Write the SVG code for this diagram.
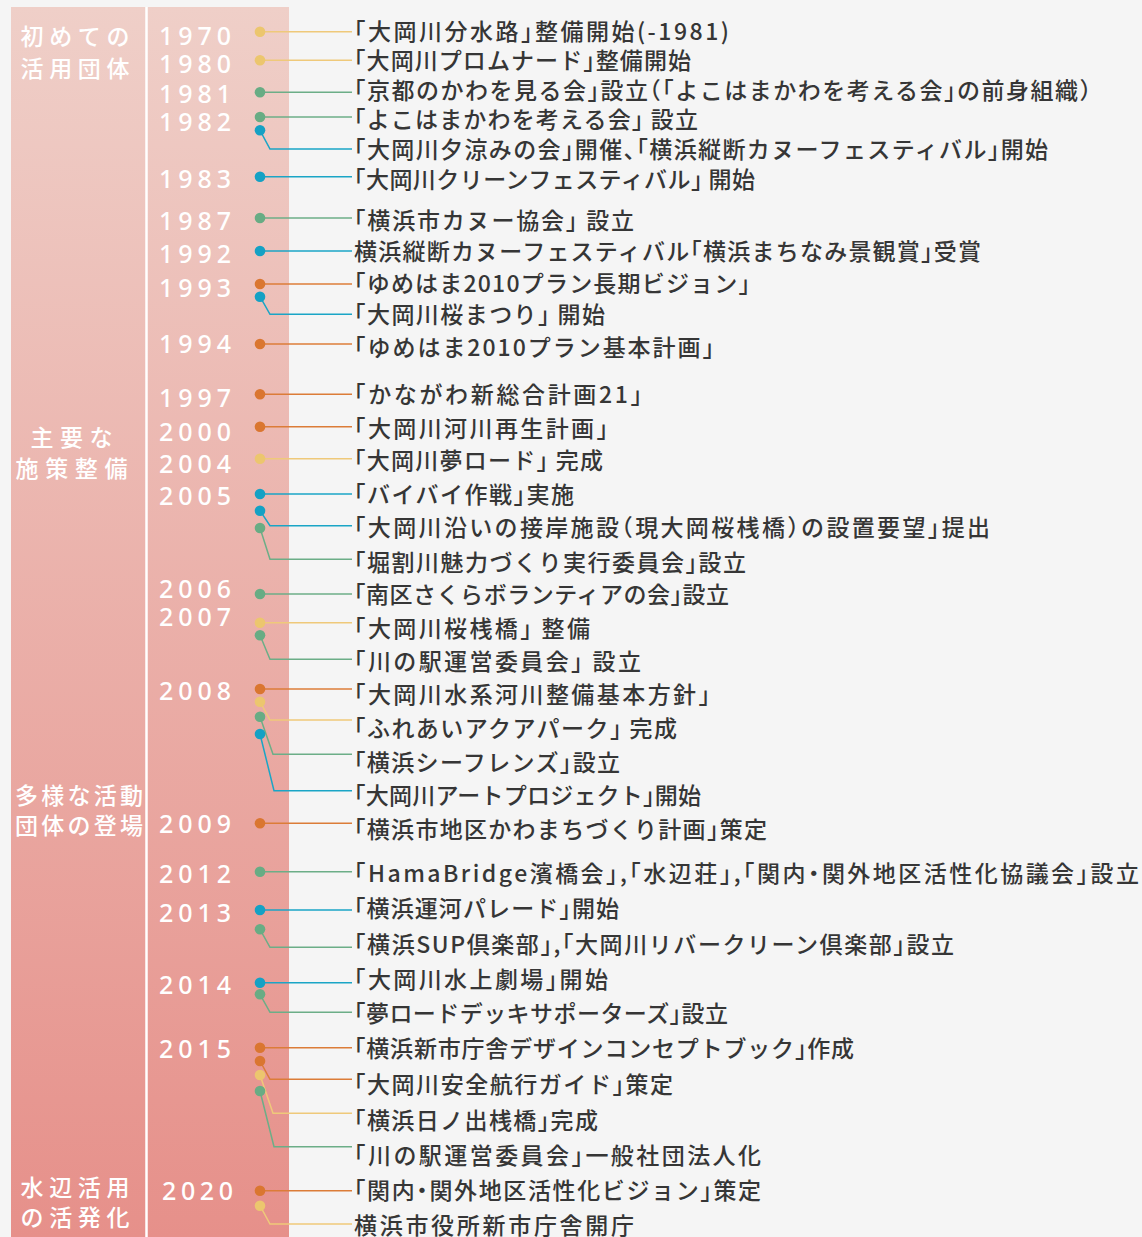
<svg xmlns="http://www.w3.org/2000/svg" width="1142" height="1237" viewBox="0 0 1142 1237">
<defs>
<linearGradient id="pg" x1="0" y1="0" x2="0" y2="1">
<stop offset="0" stop-color="#efcfc8"/>
<stop offset="1" stop-color="#e6908a"/>
</linearGradient>
<style>
.cat{fill:#fff;font-family:"Noto Sans CJK JP","Noto Sans",sans-serif;font-size:23px;font-weight:500}
.yr{fill:#fff;font-family:"Noto Sans","Noto Sans CJK JP",sans-serif;font-size:25px;font-weight:500}
.lb{fill:#363636;font-family:"Noto Sans CJK JP",sans-serif;font-size:23px;font-weight:500;font-feature-settings:"halt"}
.dy{fill:#ecc66e}.dg{fill:#68ac84}.db{fill:#15a1c4}.do{fill:#da7630}
.cn path{fill:none;stroke-width:1.5}
.ly{stroke:#efc97a}.lg{stroke:#6cae87}.lb2{stroke:#1aa5c6}.lo{stroke:#dc7c38}
</style>
</defs>
<rect width="1142" height="1237" fill="#f5f5f5"/>
<g id="panel">
<rect x="11" y="7" width="278" height="1230" fill="url(#pg)"/>
<line x1="146.5" y1="7" x2="146.5" y2="1237" stroke="#fff" stroke-width="2.5"/>
</g>
<g id="categories">
<g id="cat1"><text class="cat" x="20.5" y="45" textLength="109" lengthAdjust="spacing">初めての</text><text class="cat" x="20.5" y="76.5" textLength="109" lengthAdjust="spacing">活用団体</text></g>
<g id="cat2"><text class="cat" x="30.5" y="445.5" textLength="82" lengthAdjust="spacing">主要な</text><text class="cat" x="15.5" y="477" textLength="112" lengthAdjust="spacing">施策整備</text></g>
<g id="cat3"><text class="cat" x="15" y="804" textLength="128" lengthAdjust="spacing">多様な活動</text><text class="cat" x="15" y="834" textLength="128" lengthAdjust="spacing">団体の登場</text></g>
<g id="cat4"><text class="cat" x="20.5" y="1196" textLength="109" lengthAdjust="spacing">水辺活用</text><text class="cat" x="20.5" y="1226" textLength="109" lengthAdjust="spacing">の活発化</text></g>
</g>
<g id="years">
<g id="y1970"><text class="yr" x="159" y="45" textLength="72" lengthAdjust="spacing">1970</text></g>
<g id="y1980"><text class="yr" x="159" y="73" textLength="72" lengthAdjust="spacing">1980</text></g>
<g id="y1981"><text class="yr" x="159" y="103" textLength="72" lengthAdjust="spacing">1981</text></g>
<g id="y1982"><text class="yr" x="159" y="131" textLength="72" lengthAdjust="spacing">1982</text></g>
<g id="y1983"><text class="yr" x="159" y="188" textLength="72" lengthAdjust="spacing">1983</text></g>
<g id="y1987"><text class="yr" x="159" y="230" textLength="72" lengthAdjust="spacing">1987</text></g>
<g id="y1992"><text class="yr" x="159" y="263" textLength="72" lengthAdjust="spacing">1992</text></g>
<g id="y1993"><text class="yr" x="159" y="297" textLength="72" lengthAdjust="spacing">1993</text></g>
<g id="y1994"><text class="yr" x="159" y="353" textLength="72" lengthAdjust="spacing">1994</text></g>
<g id="y1997"><text class="yr" x="159" y="407" textLength="72" lengthAdjust="spacing">1997</text></g>
<g id="y2000"><text class="yr" x="159" y="441" textLength="72" lengthAdjust="spacing">2000</text></g>
<g id="y2004"><text class="yr" x="159" y="473" textLength="72" lengthAdjust="spacing">2004</text></g>
<g id="y2005"><text class="yr" x="159" y="505" textLength="72" lengthAdjust="spacing">2005</text></g>
<g id="y2006"><text class="yr" x="159" y="598" textLength="72" lengthAdjust="spacing">2006</text></g>
<g id="y2007"><text class="yr" x="159" y="626" textLength="72" lengthAdjust="spacing">2007</text></g>
<g id="y2008"><text class="yr" x="159" y="700" textLength="72" lengthAdjust="spacing">2008</text></g>
<g id="y2009"><text class="yr" x="159" y="833" textLength="72" lengthAdjust="spacing">2009</text></g>
<g id="y2012"><text class="yr" x="159" y="883" textLength="72" lengthAdjust="spacing">2012</text></g>
<g id="y2013"><text class="yr" x="159" y="922" textLength="72" lengthAdjust="spacing">2013</text></g>
<g id="y2014"><text class="yr" x="159" y="994" textLength="72" lengthAdjust="spacing">2014</text></g>
<g id="y2015"><text class="yr" x="159" y="1058" textLength="72" lengthAdjust="spacing">2015</text></g>
<g id="y2020"><text class="yr" x="162" y="1200" textLength="71" lengthAdjust="spacing">2020</text></g>
</g>
<g id="connectors" class="cn">
<path class="ly" d="M260,31.7H352"/>
<path class="ly" d="M260,60.3H352"/>
<path class="lg" d="M260,92.3H352"/>
<path class="lg" d="M260,117H352"/>
<path class="lb2" d="M260,130.3L270,149H352"/>
<path class="lb2" d="M260,176.7H352"/>
<path class="lg" d="M260,218H352"/>
<path class="lb2" d="M260,251H352"/>
<path class="lo" d="M260,284H352"/>
<path class="lb2" d="M260,296.7L270,314.3H352"/>
<path class="lo" d="M260,344H352"/>
<path class="lo" d="M260,394.3H352"/>
<path class="lo" d="M260,426.7H352"/>
<path class="ly" d="M260,458.7H352"/>
<path class="lb2" d="M260,494H352"/>
<path class="lb2" d="M260,510.7L270,525.7H352"/>
<path class="lg" d="M260,528L270,559.3H352"/>
<path class="lg" d="M260,594H352"/>
<path class="ly" d="M260,622.7H352"/>
<path class="lg" d="M260,635.3L270,659.3H352"/>
<path class="lo" d="M260,689H352"/>
<path class="ly" d="M260,701.7L270,720H352"/>
<path class="lg" d="M260,716.7L273,754.3H352"/>
<path class="lb2" d="M260,734L274,790.7H352"/>
<path class="lo" d="M260,823.3H352"/>
<path class="lg" d="M260,871.7H352"/>
<path class="lb2" d="M260,910H352"/>
<path class="lg" d="M260,929.3L270,947.3H352"/>
<path class="lb2" d="M260,982.7H352"/>
<path class="lg" d="M260,994.3L270,1012.3H352"/>
<path class="lo" d="M260,1047.7H352"/>
<path class="lo" d="M260,1061L270,1079.3H352"/>
<path class="ly" d="M260,1075L273,1113.3H352"/>
<path class="lg" d="M260,1091L274,1146.7H352"/>
<path class="lo" d="M260,1190.7H352"/>
<path class="ly" d="M260,1205.7L270,1224H352"/>
</g>
<g id="e01"><circle class="dy" cx="260" cy="31.7" r="5.3"/><text class="lb" x="354" y="39.5" textLength="375" lengthAdjust="spacing">「大岡川分水路」整備開始(-1981)</text></g>
<g id="e02"><circle class="dy" cx="260" cy="60.3" r="5.3"/><text class="lb" x="354" y="68.5" textLength="337" lengthAdjust="spacing">「大岡川プロムナード」整備開始</text></g>
<g id="e03"><circle class="dg" cx="260" cy="92.3" r="5.3"/><text class="lb" x="354" y="98.5" textLength="737" lengthAdjust="spacing">「京都のかわを見る会」設立（「よこはまかわを考える会」の前身組織）</text></g>
<g id="e04"><circle class="dg" cx="260" cy="117" r="5.3"/><text class="lb" x="354" y="127.5" textLength="344" lengthAdjust="spacing">「よこはまかわを考える会」 設立</text></g>
<g id="e05"><circle class="db" cx="260" cy="130.3" r="5.3"/><text class="lb" x="354" y="157.5" textLength="694" lengthAdjust="spacing">「大岡川夕涼みの会」開催、「横浜縦断カヌーフェスティバル」開始</text></g>
<g id="e06"><circle class="db" cx="260" cy="176.7" r="5.3"/><text class="lb" x="354" y="187.5" textLength="401" lengthAdjust="spacing">「大岡川クリーンフェスティバル」 開始</text></g>
<g id="e07"><circle class="dg" cx="260" cy="218" r="5.3"/><text class="lb" x="354" y="228.5" textLength="280" lengthAdjust="spacing">「横浜市カヌー協会」 設立</text></g>
<g id="e08"><circle class="db" cx="260" cy="251" r="5.3"/><text class="lb" x="354" y="259.5" textLength="627" lengthAdjust="spacing">横浜縦断カヌーフェスティバル「横浜まちなみ景観賞」受賞</text></g>
<g id="e09"><circle class="do" cx="260" cy="284" r="5.3"/><text class="lb" x="354" y="291.5" textLength="396" lengthAdjust="spacing">「ゆめはま2010プラン長期ビジョン」</text></g>
<g id="e10"><circle class="db" cx="260" cy="296.7" r="5.3"/><text class="lb" x="354" y="322.5" textLength="251" lengthAdjust="spacing">「大岡川桜まつり」 開始</text></g>
<g id="e11"><circle class="do" cx="260" cy="344" r="5.3"/><text class="lb" x="354" y="355.5" textLength="360" lengthAdjust="spacing">「ゆめはま2010プラン基本計画」</text></g>
<g id="e12"><circle class="do" cx="260" cy="394.3" r="5.3"/><text class="lb" x="354" y="402.5" textLength="288" lengthAdjust="spacing">「かながわ新総合計画21」</text></g>
<g id="e13"><circle class="do" cx="260" cy="426.7" r="5.3"/><text class="lb" x="354" y="436.5" textLength="254" lengthAdjust="spacing">「大岡川河川再生計画」</text></g>
<g id="e14"><circle class="dy" cx="260" cy="458.7" r="5.3"/><text class="lb" x="354" y="468.5" textLength="249" lengthAdjust="spacing">「大岡川夢ロード」 完成</text></g>
<g id="e15"><circle class="db" cx="260" cy="494" r="5.3"/><text class="lb" x="354" y="502.5" textLength="220" lengthAdjust="spacing">「バイバイ作戦」実施</text></g>
<g id="e16"><circle class="db" cx="260" cy="510.7" r="5.3"/><text class="lb" x="354" y="535.5" textLength="636" lengthAdjust="spacing">「大岡川沿いの接岸施設（現大岡桜桟橋）の設置要望」提出</text></g>
<g id="e17"><circle class="dg" cx="260" cy="528" r="5.3"/><text class="lb" x="354" y="570.5" textLength="392" lengthAdjust="spacing">「堀割川魅力づくり実行委員会」設立</text></g>
<g id="e18"><circle class="dg" cx="260" cy="594" r="5.3"/><text class="lb" x="354" y="602.5" textLength="375" lengthAdjust="spacing">「南区さくらボランティアの会」設立</text></g>
<g id="e19"><circle class="dy" cx="260" cy="622.7" r="5.3"/><text class="lb" x="354" y="636.5" textLength="236" lengthAdjust="spacing">「大岡川桜桟橋」 整備</text></g>
<g id="e20"><circle class="dg" cx="260" cy="635.3" r="5.3"/><text class="lb" x="354" y="669.5" textLength="287" lengthAdjust="spacing">「川の駅運営委員会」 設立</text></g>
<g id="e21"><circle class="do" cx="260" cy="689" r="5.3"/><text class="lb" x="354" y="702.5" textLength="356" lengthAdjust="spacing">「大岡川水系河川整備基本方針」</text></g>
<g id="e22"><circle class="dy" cx="260" cy="701.7" r="5.3"/><text class="lb" x="354" y="736.5" textLength="323" lengthAdjust="spacing">「ふれあいアクアパーク」 完成</text></g>
<g id="e23"><circle class="dg" cx="260" cy="716.7" r="5.3"/><text class="lb" x="354" y="770.5" textLength="266" lengthAdjust="spacing">「横浜シーフレンズ」設立</text></g>
<g id="e24"><circle class="db" cx="260" cy="734" r="5.3"/><text class="lb" x="354" y="803.5" textLength="347" lengthAdjust="spacing">「大岡川アートプロジェクト」開始</text></g>
<g id="e25"><circle class="do" cx="260" cy="823.3" r="5.3"/><text class="lb" x="354" y="837.5" textLength="413" lengthAdjust="spacing">「横浜市地区かわまちづくり計画」策定</text></g>
<g id="e26"><circle class="dg" cx="260" cy="871.7" r="5.3"/><text class="lb" x="354" y="881.5" textLength="785" lengthAdjust="spacing">「HamaBridge濱橋会」,「水辺荘」,「関内・関外地区活性化協議会」設立</text></g>
<g id="e27"><circle class="db" cx="260" cy="910" r="5.3"/><text class="lb" x="354" y="916.5" textLength="265" lengthAdjust="spacing">「横浜運河パレード」開始</text></g>
<g id="e28"><circle class="dg" cx="260" cy="929.3" r="5.3"/><text class="lb" x="354" y="952.5" textLength="600" lengthAdjust="spacing">「横浜SUP倶楽部」,「大岡川リバークリーン倶楽部」設立</text></g>
<g id="e29"><circle class="db" cx="260" cy="982.7" r="5.3"/><text class="lb" x="354" y="987.5" textLength="254" lengthAdjust="spacing">「大岡川水上劇場」開始</text></g>
<g id="e30"><circle class="dg" cx="260" cy="994.3" r="5.3"/><text class="lb" x="354" y="1021.5" textLength="374" lengthAdjust="spacing">「夢ロードデッキサポーターズ」設立</text></g>
<g id="e31"><circle class="do" cx="260" cy="1047.7" r="5.3"/><text class="lb" x="354" y="1056.5" textLength="500" lengthAdjust="spacing">「横浜新市庁舎デザインコンセプトブック」作成</text></g>
<g id="e32"><circle class="do" cx="260" cy="1061" r="5.3"/><text class="lb" x="354" y="1092.5" textLength="319" lengthAdjust="spacing">「大岡川安全航行ガイド」策定</text></g>
<g id="e33"><circle class="dy" cx="260" cy="1075" r="5.3"/><text class="lb" x="354" y="1128.5" textLength="244" lengthAdjust="spacing">「横浜日ノ出桟橋」完成</text></g>
<g id="e34"><circle class="dg" cx="260" cy="1091" r="5.3"/><text class="lb" x="354" y="1163.5" textLength="407" lengthAdjust="spacing">「川の駅運営委員会」一般社団法人化</text></g>
<g id="e35"><circle class="do" cx="260" cy="1190.7" r="5.3"/><text class="lb" x="354" y="1198.5" textLength="407" lengthAdjust="spacing">「関内・関外地区活性化ビジョン」策定</text></g>
<g id="e36"><circle class="dy" cx="260" cy="1205.7" r="5.3"/><text class="lb" x="354" y="1233.5" textLength="280" lengthAdjust="spacing">横浜市役所新市庁舎開庁</text></g>
</svg>
